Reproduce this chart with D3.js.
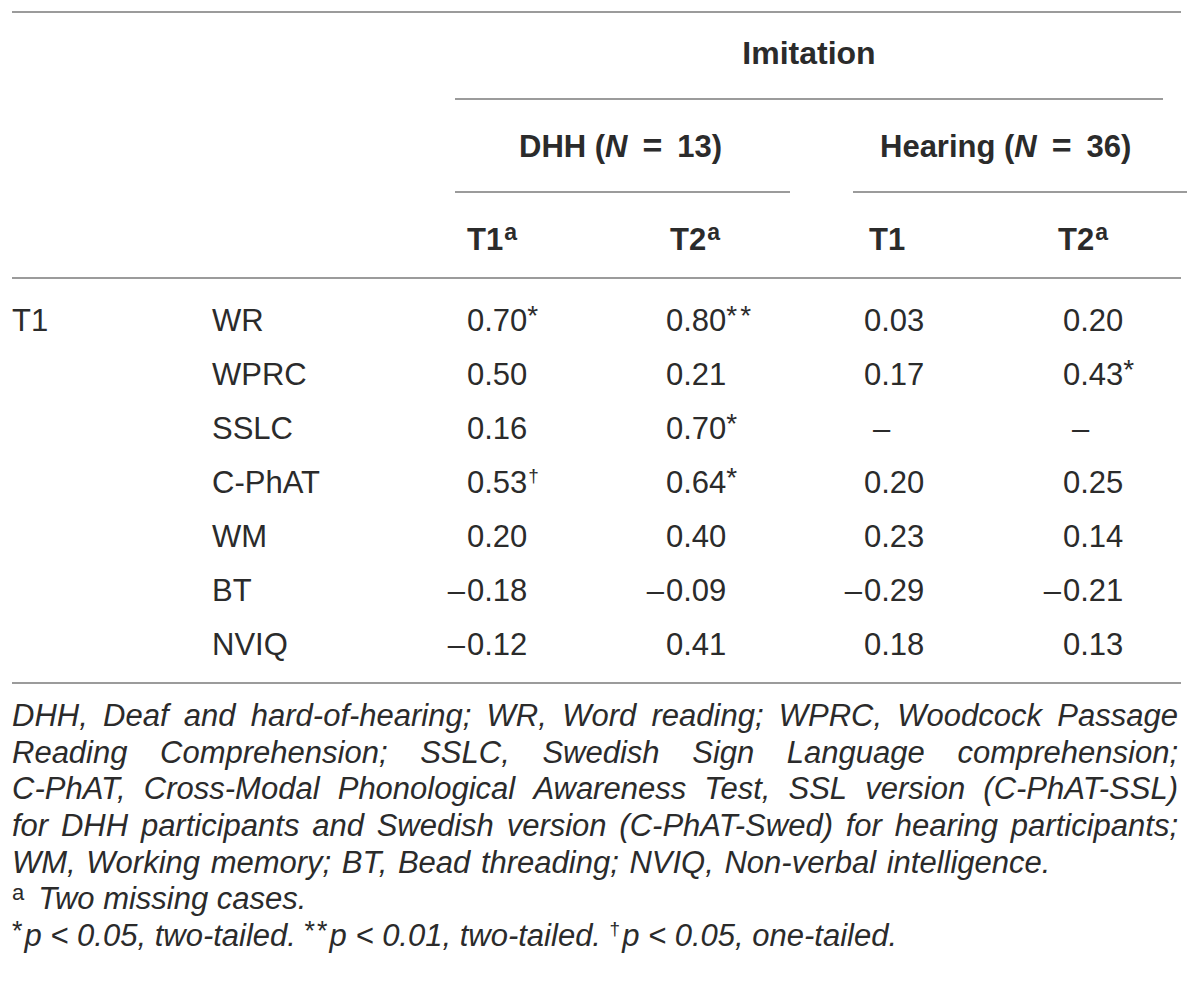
<!DOCTYPE html>
<html>
<head>
<meta charset="utf-8">
<script src="https://cdn.jsdelivr.net/npm/d3@7"></script>
<style>
    body { margin: 0; background: #fff; }
    svg text { font-family: "Liberation Sans", Arial, Helvetica, sans-serif; fill: #2b2b2b; }
</style>
</head>
<body>
<div id="table"></div>
<script>
// ---- table data ----
const spanTitle = "Imitation";
const groups = ["DHH", "Hearing"];
const groupN = [13, 36];
const colKeys = ["dhhT1", "dhhT2", "hearT1", "hearT2"];
const timeLabels = ["T1", "T2", "T1", "T2"];
const timeSup = ["a", "a", "", "a"];
const rowGroup = "T1";
const measures = ["WR", "WPRC", "SSLC", "C-PhAT", "WM", "BT", "NVIQ"];

const dhhT1 = [0.70, 0.50, 0.16, 0.53, 0.20, -0.18, -0.12];
const dhhT2 = [0.80, 0.21, 0.70, 0.64, 0.40, -0.09, 0.41];
const hearT1 = [0.03, 0.17, null, 0.20, 0.23, -0.29, 0.18];
const hearT2 = [0.20, 0.43, null, 0.25, 0.14, -0.21, 0.13];

const dhhT1Sig = ["*", "", "", "\u2020", "", "", ""];
const dhhT2Sig = ["**", "", "*", "*", "", "", ""];
const hearT1Sig = ["", "", "", "", "", "", ""];
const hearT2Sig = ["", "*", "", "", "", "", ""];

const noteLines = [
    "DHH, Deaf and hard-of-hearing; WR, Word reading; WPRC, Woodcock Passage",
    "Reading Comprehension; SSLC, Swedish Sign Language comprehension;",
    "C-PhAT, Cross-Modal Phonological Awareness Test, SSL version (C-PhAT-SSL)",
    "for DHH participants and Swedish version (C-PhAT-Swed) for hearing participants;",
    "WM, Working memory; BT, Bead threading; NVIQ, Non-verbal intelligence."
];
const missingNote = "Two missing cases.";
const sigNotes = [
    {sym: "*", text: "p < 0.05, two-tailed. "},
    {sym: "**", text: "p < 0.01, two-tailed. "},
    {sym: "\u2020", text: "p < 0.05, one-tailed."}
];

// ---- layout ----
const width = 1200, height = 1000;
const left = 12, right = 1181;
const fontSize = 31;

let svg = d3.select("#table").append("svg")
    .attr("width", width)
    .attr("height", height);

let cols = colKeys.map((k, i) => ({
    key: k, label: timeLabels[i], sup: timeSup[i],
    values: [dhhT1, dhhT2, hearT1, hearT2][i],
    sigs: [dhhT1Sig, dhhT2Sig, hearT1Sig, hearT2Sig][i]
}));

let headX = d3.scaleOrdinal().domain(colKeys).range([467, 670, 869, 1058]);
let valX = d3.scaleOrdinal().domain(colKeys).range([467, 666, 864, 1063]);
let rowY = d3.scalePoint().domain(measures).range([331, 655]);

// rules
let rules = [
    {x1: left, x2: right, y: 12},
    {x1: 455, x2: 1163, y: 99},
    {x1: 455, x2: 790, y: 192},
    {x1: 853, x2: 1187, y: 192},
    {x1: left, x2: right, y: 278},
    {x1: left, x2: right, y: 683}
];
svg.selectAll(".rule")
    .data(rules)
    .enter()
    .append("line")
    .attr("class", "rule")
    .attr("x1", d => d.x1)
    .attr("x2", d => d.x2)
    .attr("y1", d => d.y)
    .attr("y2", d => d.y)
    .attr("stroke", "#9b9b9b")
    .attr("stroke-width", 2);

// spanning title
svg.append("text")
    .attr("x", 809)
    .attr("y", 64)
    .attr("text-anchor", "middle")
    .attr("font-size", 32)
    .attr("font-weight", "bold")
    .text(spanTitle);

// group headers
let groupX = [519, 880];
groups.forEach((g, i) => {
    let t = svg.append("text")
        .attr("x", groupX[i])
        .attr("y", 157)
        .attr("font-size", fontSize)
        .attr("font-weight", "bold");
    t.append("tspan").text(g + " (");
    t.append("tspan").attr("font-style", "italic").text("N");
    t.append("tspan").attr("dx", 15).attr("font-size", 34).text("=");
    t.append("tspan").attr("dx", 15).text(groupN[i] + ")");
});

// time headers
let heads = svg.selectAll(".colhead")
    .data(cols)
    .enter()
    .append("text")
    .attr("class", "colhead")
    .attr("x", d => headX(d.key))
    .attr("y", 250)
    .attr("font-size", fontSize)
    .attr("font-weight", "bold");
heads.append("tspan").text(d => d.label);
heads.append("tspan")
    .attr("font-size", 23)
    .attr("dx", 1)
    .attr("dy", -10)
    .text(d => d.sup);

// row labels
svg.append("text")
    .attr("x", left)
    .attr("y", rowY(measures[0]))
    .attr("font-size", fontSize)
    .text(rowGroup);

svg.selectAll(".measure")
    .data(measures)
    .enter()
    .append("text")
    .attr("class", "measure")
    .attr("x", 212)
    .attr("y", d => rowY(d))
    .attr("font-size", fontSize)
    .text(d => d);

// value cells
let fmt = d3.format(".2f");
let cells = [];
cols.forEach(c => {
    c.values.forEach((v, i) => {
        cells.push({key: c.key, row: measures[i], v: v, sig: c.sigs[i]});
    });
});

let cellG = svg.selectAll(".cell")
    .data(cells)
    .enter()
    .append("g")
    .attr("class", "cell");

// missing values
cellG.filter(d => d.v === null)
    .append("text")
    .attr("x", d => valX(d.key) + 9)
    .attr("y", d => rowY(d.row))
    .attr("font-size", fontSize)
    .text("\u2013");

// minus sign hangs left of the digits
cellG.filter(d => d.v !== null && d.v < 0)
    .append("text")
    .attr("x", d => valX(d.key) - 2)
    .attr("y", d => rowY(d.row))
    .attr("text-anchor", "end")
    .attr("font-size", fontSize)
    .text("\u2013");

let numText = cellG.filter(d => d.v !== null)
    .append("text")
    .attr("x", d => valX(d.key))
    .attr("y", d => rowY(d.row))
    .attr("font-size", fontSize);
numText.append("tspan").text(d => fmt(Math.abs(d.v)));
numText.filter(d => d.sig === "*" || d.sig === "**")
    .append("tspan")
    .attr("font-size", 28)
    .attr("dy", -6)
    .attr("letter-spacing", 3)
    .text(d => d.sig);
numText.filter(d => d.sig === "\u2020")
    .append("tspan")
    .attr("font-size", 19)
    .attr("dx", 1)
    .attr("dy", -11)
    .text(d => d.sig);

// ---- footnotes ----
let noteY = d3.scaleLinear().domain([0, 6]).range([726, 946]);

let measurer = svg.append("text")
    .attr("font-size", fontSize)
    .attr("font-style", "italic")
    .attr("visibility", "hidden");
function wordWidth(w) {
    measurer.text(w);
    return measurer.node().getComputedTextLength();
}
let spaceW = wordWidth("n n") - wordWidth("nn");

noteLines.forEach((line, i) => {
    let words = line.split(" ");
    let widths = words.map(wordWidth);
    let justify = i < noteLines.length - 1;
    let gap = justify
        ? (right - 3 - left - d3.sum(widths)) / (words.length - 1)
        : spaceW + 2;
    let x = left;
    let positions = words.map((w, j) => {
        let p = x;
        x += widths[j] + gap;
        return p;
    });
    svg.selectAll(".note" + i)
        .data(words)
        .enter()
        .append("text")
        .attr("class", "note" + i)
        .attr("x", (d, j) => positions[j])
        .attr("y", noteY(i))
        .attr("font-size", fontSize)
        .attr("font-style", "italic")
        .text(d => d);
});
measurer.remove();

// missing cases note
let mNote = svg.append("text")
    .attr("x", left)
    .attr("y", noteY(5))
    .attr("font-size", fontSize);
mNote.append("tspan")
    .attr("font-size", 22)
    .attr("dy", -9)
    .text("a");
mNote.append("tspan")
    .attr("dy", 9)
    .attr("dx", 14)
    .attr("font-style", "italic")
    .text(missingNote);

// significance note
let sNote = svg.append("text")
    .attr("x", left)
    .attr("y", noteY(6))
    .attr("font-size", fontSize)
    .attr("xml:space", "preserve");
sigNotes.forEach(s => {
    let small = s.sym === "\u2020" ? 19 : 27;
    let up = s.sym === "\u2020" ? 11 : 6;
    sNote.append("tspan")
        .attr("font-size", small)
        .attr("dy", -up)
        .attr("letter-spacing", 2)
        .text(s.sym);
    sNote.append("tspan")
        .attr("dy", up)
        .attr("font-style", "italic")
        .text(s.text);
});
</script>
</body>
</html>
